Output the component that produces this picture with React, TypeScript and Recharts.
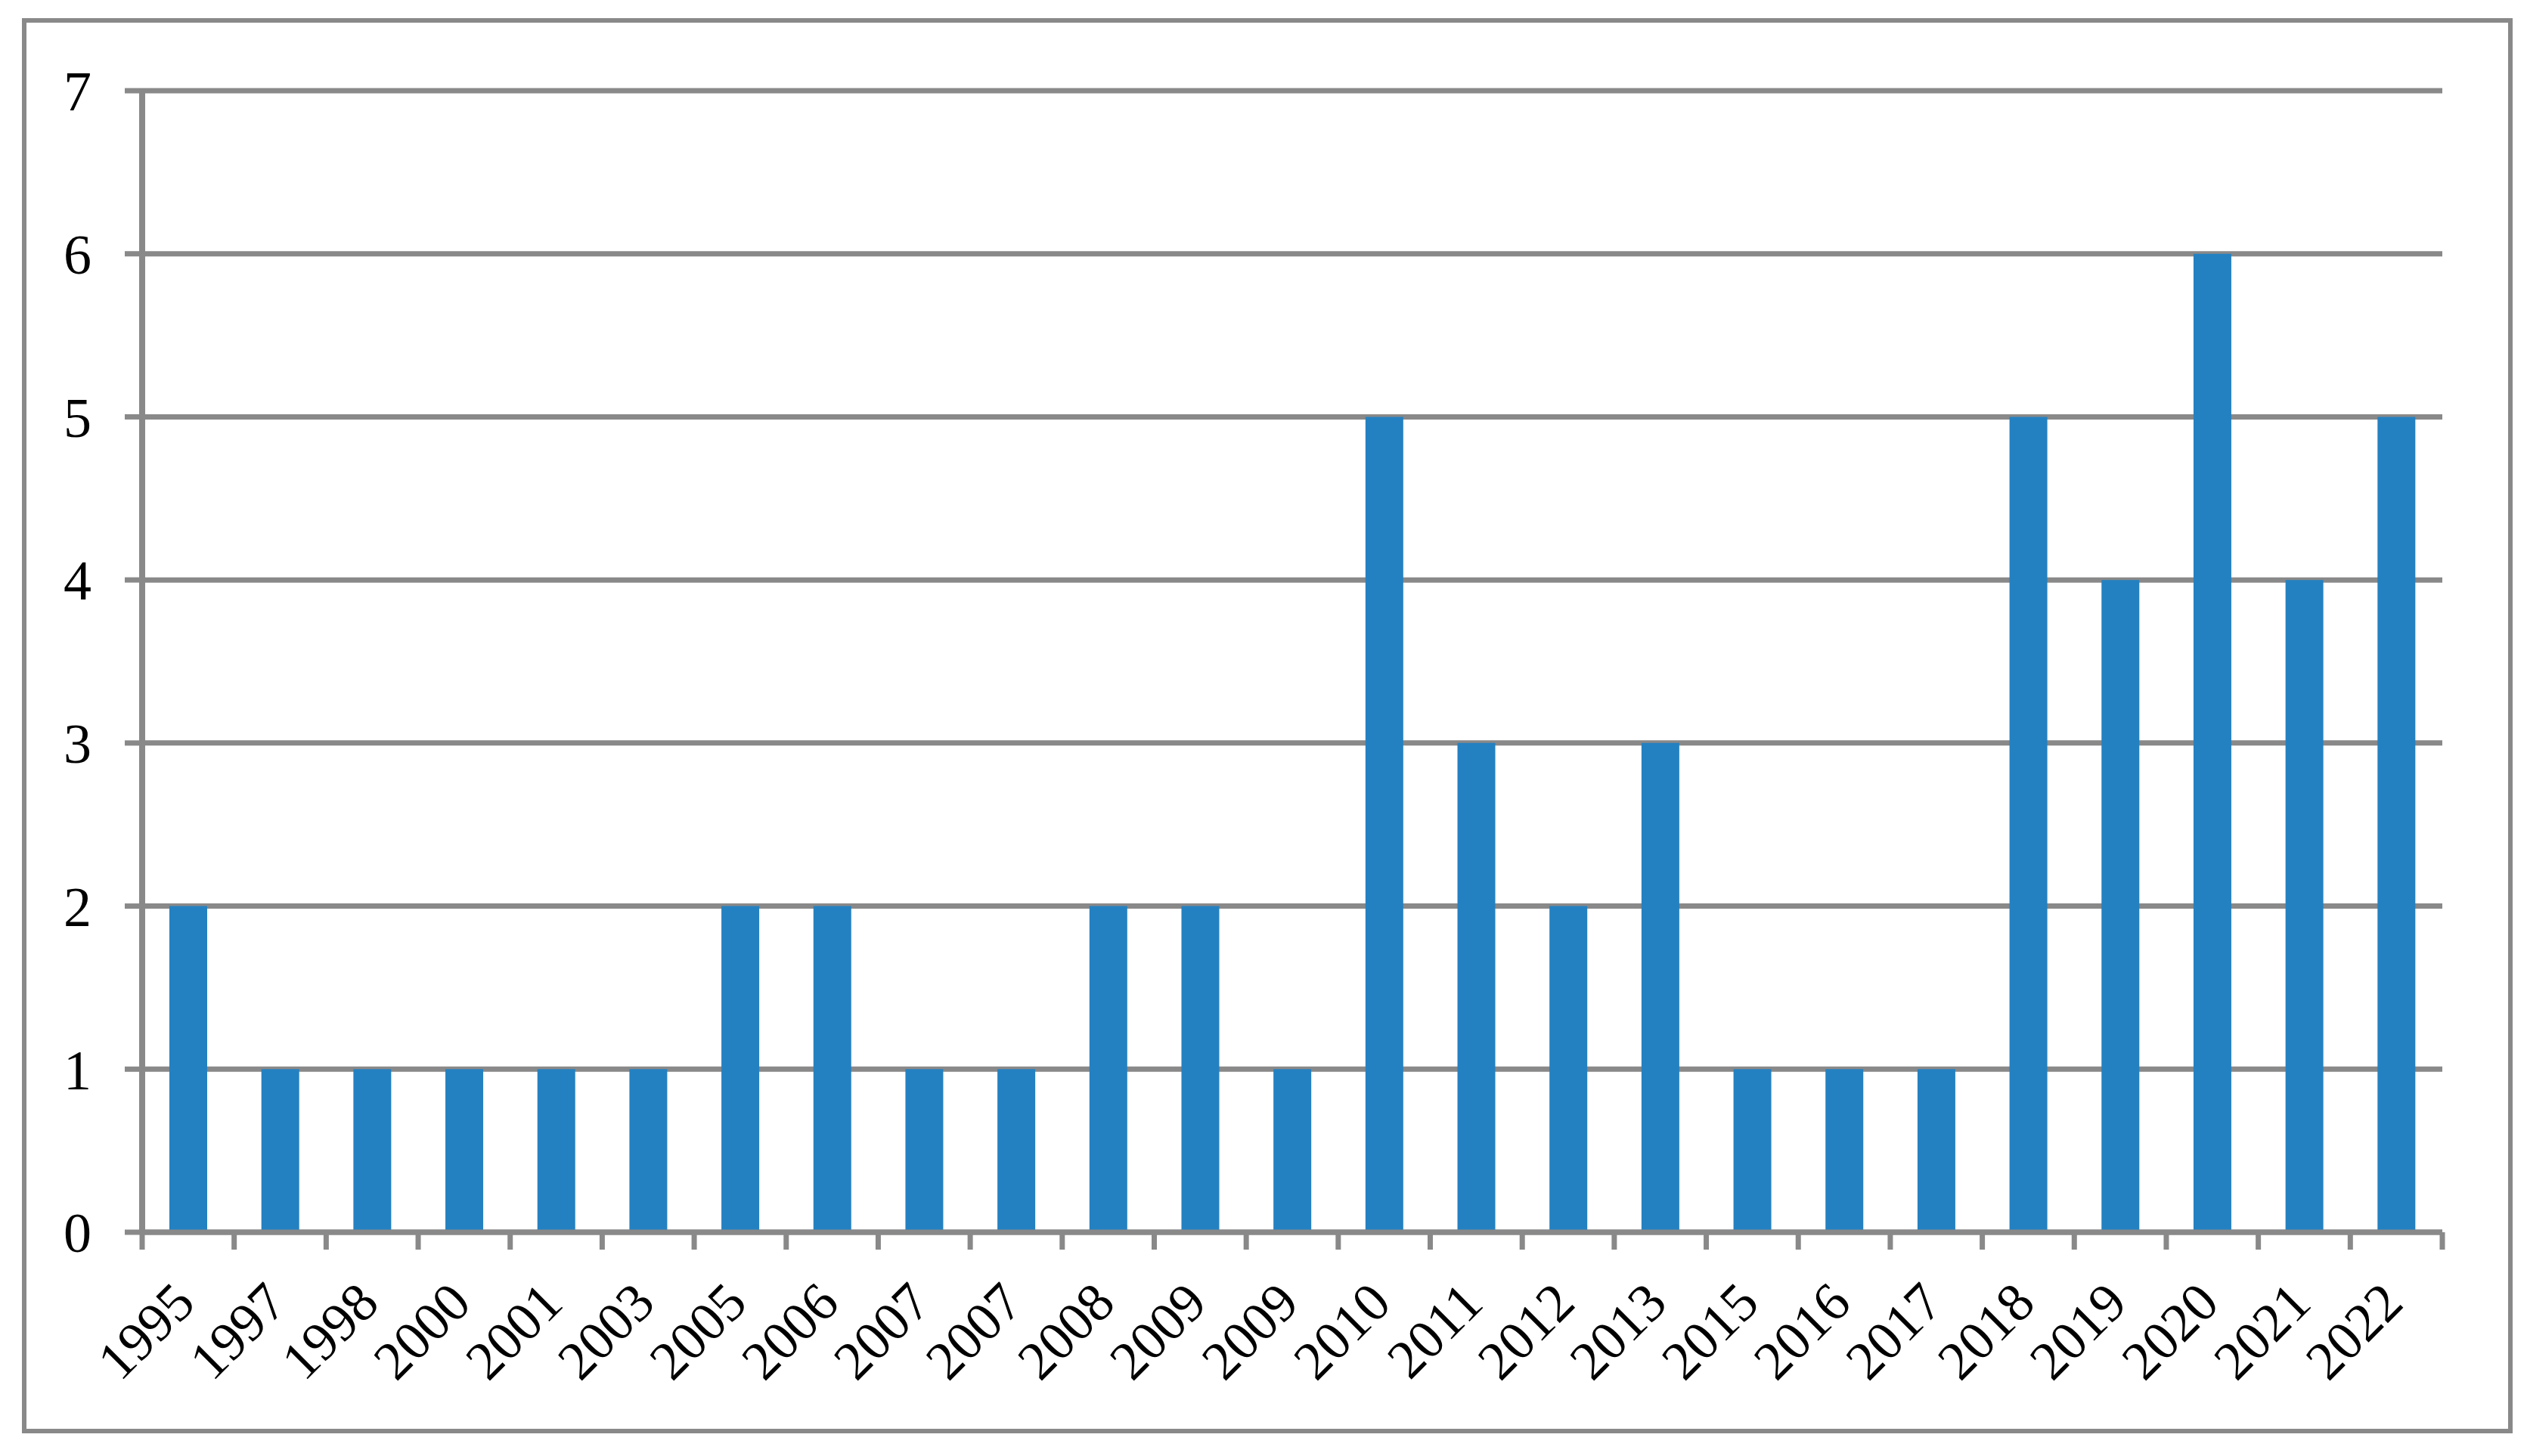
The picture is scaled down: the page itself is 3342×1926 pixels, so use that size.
import { BarChart, Bar, XAxis, YAxis, CartesianGrid } from 'recharts'

const years = [
  '1995', '1997', '1998', '2000', '2001', '2003', '2005', '2006', '2007', '2007',
  '2008', '2009', '2009', '2010', '2011', '2012', '2013', '2015', '2016', '2017',
  '2018', '2019', '2020', '2021', '2022',
]
const counts = [2, 1, 1, 1, 1, 1, 2, 2, 1, 1, 2, 2, 1, 5, 3, 2, 3, 1, 1, 1, 5, 4, 6, 4, 5]
const yTicks = [0, 1, 2, 3, 4, 5, 6, 7]

const data = years.map((year, i) => ({ slot: i, year, count: counts[i] }))
// boundaries between the categories, where the tick marks sit
const edgeTicks = [...years.map((_, i) => i), years.length]

const gray = '#898989'
const blue = '#2481c1'
const serif = '"Liberation Serif", "Times New Roman", serif'

function YearTick({ x, y, payload }: any) {
  const px = x + 12
  const py = y + 96
  return (
    <text
      x={px}
      y={py}
      transform={`rotate(-45 ${px} ${py})`}
      textAnchor="end"
      fontFamily={serif}
      fontSize={72}
      fill="#000"
    >
      {years[payload.index]}
    </text>
  )
}

export default function App() {
  return (
    <div style={{ position: 'absolute', left: 0, top: 0, width: 3342, height: 1926, background: '#fff' }}>
      <BarChart
        width={3342}
        height={1926}
        data={data}
        margin={{ top: 120, right: 112, bottom: 0, left: 0 }}
      >
        <CartesianGrid vertical={false} stroke={gray} strokeWidth={7} />
        {/* axis line + boundary tick marks, sits right against the plot */}
        <XAxis
          xAxisId={0}
          dataKey="slot"
          type="number"
          domain={[0, years.length]}
          ticks={edgeTicks}
          allowDataOverflow
          interval={0}
          height={1}
          tickFormatter={() => ''}
          tickSize={23}
          tickLine={{ stroke: gray, strokeWidth: 7 }}
          axisLine={{ stroke: gray, strokeWidth: 7 }}
        />
        <XAxis
          xAxisId="years"
          dataKey="slot"
          type="category"
          interval={0}
          height={295}
          tickLine={false}
          axisLine={false}
          tickSize={0}
          tickMargin={0}
          tick={<YearTick />}
        />
        <YAxis
          width={188}
          domain={[0, 7]}
          ticks={yTicks}
          interval={0}
          tickSize={23}
          tickMargin={44}
          axisLine={{ stroke: gray, strokeWidth: 8 }}
          tickLine={{ stroke: gray, strokeWidth: 7 }}
          tick={{ fill: '#000', fontSize: 74, fontFamily: serif }}
        />
        <Bar xAxisId="years" dataKey="count" fill={blue} barSize={50} isAnimationActive={false} />
      </BarChart>
      <div
        style={{
          position: 'absolute',
          left: 29,
          top: 24,
          width: 3294,
          height: 1872,
          boxSizing: 'border-box',
          border: `6px solid ${gray}`,
          pointerEvents: 'none',
        }}
      />
    </div>
  )
}
